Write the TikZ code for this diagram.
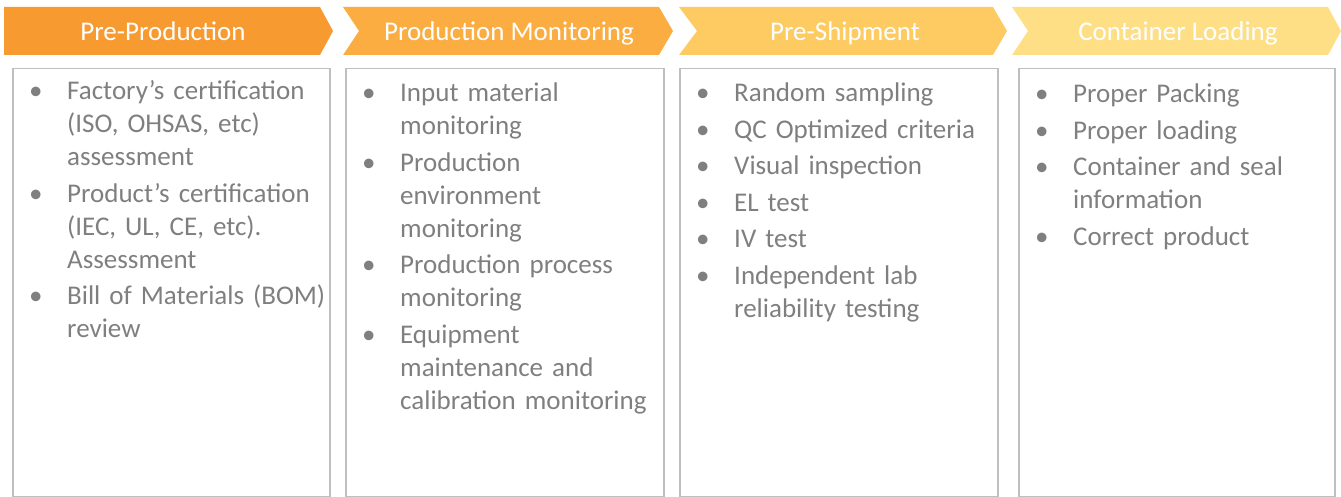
\documentclass[tikz,border=0pt]{standalone}
\usepackage{fontspec}
\setmainfont{Carlito}
\usetikzlibrary{positioning}

\definecolor{stageone}{HTML}{F79B30}
\definecolor{stagetwo}{HTML}{FBAD41}
\definecolor{stagethree}{HTML}{FDCB62}
\definecolor{stagefour}{HTML}{FEDF86}
\definecolor{listgray}{HTML}{7F7F7F}
\definecolor{framegray}{HTML}{BFBFBF}

\newcommand{\qcitem}[1]{\setlength{\parskip}{3.5pt}\hangindent=38pt\hangafter=1\noindent\makebox[38pt][l]{\textbullet}#1\par}

\begin{document}
\begin{tikzpicture}[x = 1pt, y = -1pt,
	stagetext/.style = {text = white, inner sep = 0, anchor = base, font = \fontsize{27}{33}\selectfont},
	listbox/.style = {draw = framegray, line width = 1.5pt, inner sep = 0, anchor = north west, minimum height = 428pt},
	listtext/.style = {text = listgray, inner sep = 0, text width = 300pt, align = left, font = \fontsize{27}{33}\selectfont}]

	\useasboundingbox (0, 0) rectangle (1341, 497);

	% stages
	\fill [stageone] (4, 7) -- (320, 7) -- (333, 31) -- (320, 55) -- (4, 55) -- cycle;
	\fill [stagetwo] (343, 7) -- (659, 7) -- (673, 31) -- (659, 55) -- (343, 55) -- (359, 31) -- cycle;
	\fill [stagethree] (679, 7) -- (993, 7) -- (1007, 31) -- (993, 55) -- (679, 55) -- (697, 31) -- cycle;
	\fill [stagefour] (1012, 7) -- (1328, 7) -- (1341, 31) -- (1328, 55) -- (1012, 55) -- (1028, 31) -- cycle;

	\node [stagetext] (preprod) at (163, 41) {Pre-Production};
	\node [stagetext] (prodmon) at (509, 41) {Production Monitoring};
	\node [stagetext] (preship) at (845, 41) {Pre-Shipment};
	\node [stagetext] (loading) at (1178, 41) {Container Loading};

	% lists
	\node [listbox, minimum width = 317pt] (box1) at (12, 68) {};
	\node [listbox, minimum width = 318pt] (box2) at (345, 68) {};
	\node [listbox, minimum width = 318pt] (box3) at (679, 68) {};
	\node [listbox, minimum width = 316pt] (box4) at (1018, 68) {};

	\node [listtext, below right = 32pt and 17pt of box1.north west, anchor = base west] (list1) {%
		\qcitem{Factory’s certification\newline(ISO, OHSAS, etc)\newline assessment}
		\qcitem{Product’s certification\newline(IEC, UL, CE, etc).\newline Assessment}
		\qcitem{Bill of Materials (BOM)\newline review}};
	\node [listtext, below right = 34pt and 17pt of box2.north west, anchor = base west] (list2) {%
		\qcitem{Input material\newline monitoring}
		\qcitem{Production\newline environment\newline monitoring}
		\qcitem{Production process\newline monitoring}
		\qcitem{Equipment\newline maintenance and\newline calibration monitoring}};
	\node [listtext, below right = 34pt and 17pt of box3.north west, anchor = base west] (list3) {%
		\qcitem{Random sampling}
		\qcitem{QC Optimized criteria}
		\qcitem{Visual inspection}
		\qcitem{EL test}
		\qcitem{IV test}
		\qcitem{Independent lab\newline reliability testing}};
	\node [listtext, below right = 35pt and 17pt of box4.north west, anchor = base west] (list4) {%
		\qcitem{Proper Packing}
		\qcitem{Proper loading}
		\qcitem{Container and seal\newline information}
		\qcitem{Correct product}};

\end{tikzpicture}
\end{document}
